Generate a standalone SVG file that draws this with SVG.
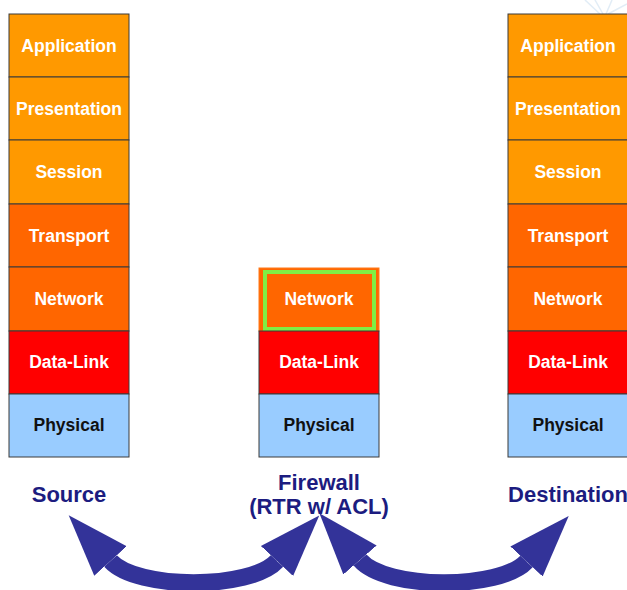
<svg xmlns="http://www.w3.org/2000/svg" width="627" height="590" viewBox="0 0 627 590">
  <defs>
    <style>
      .layer { stroke: #3a3a3a; stroke-width: 1; }
      .app { fill: #ff9900; }
      .net { fill: #ff6600; }
      .dl { fill: #ff0000; }
      .phy { fill: #99ccff; }
      .lt { font-family: "Liberation Sans", Arial, sans-serif; font-weight: bold; font-size: 17.5px; fill: #ffffff; text-anchor: middle; }
      .lt.dark { fill: #111111; }
      .cap { font-family: "Liberation Sans", Arial, sans-serif; font-weight: bold; font-size: 22px; fill: #1c1c80; text-anchor: middle; }
      .shaft { fill: none; stroke: #333399; stroke-width: 17; }
    </style>
    <marker id="head" markerUnits="userSpaceOnUse" markerWidth="64" markerHeight="50" viewBox="0 -25 64 50" refX="0" refY="0" orient="auto-start-reverse">
      <path d="M0,-22 L62,0 L0,22 Z" fill="#333399"/>
    </marker>
    <g id="stack7">
      <rect class="layer app" x="0" y="0" width="120" height="63"/>
      <rect class="layer app" x="0" y="63" width="120" height="63"/>
      <rect class="layer app" x="0" y="126" width="120" height="64"/>
      <rect class="layer net" x="0" y="190" width="120" height="63"/>
      <rect class="layer net" x="0" y="253" width="120" height="64"/>
      <rect class="layer dl" x="0" y="317" width="120" height="63"/>
      <rect class="layer phy" x="0" y="380" width="120" height="63"/>
      <text class="lt" x="60" y="37.5">Application</text>
      <text class="lt" x="60" y="100.5">Presentation</text>
      <text class="lt" x="60" y="163.5">Session</text>
      <text class="lt" x="60" y="227.5">Transport</text>
      <text class="lt" x="60" y="290.5">Network</text>
      <text class="lt" x="60" y="354">Data-Link</text>
      <text class="lt dark" x="60" y="417">Physical</text>
    </g>
  </defs>

  <!-- faint background ornament in the top-right corner -->
  <g stroke="#dbe9f5" stroke-width="1.5" fill="none" opacity="0.8">
    <path d="M585,0 L600,14"/>
    <path d="M595,0 L603,14"/>
    <path d="M612,0 L606,14"/>
    <path d="M627,4 L608,14"/>
  </g>

  <!-- end host: source -->
  <g id="source">
    <use href="#stack7" x="9" y="14"/>
    <text class="cap" x="69" y="502">Source</text>
  </g>

  <!-- router with ACL: lower three layers -->
  <g id="firewall">
    <rect x="259" y="268" width="120" height="63" fill="#ff6600" stroke="#ff7a1a" stroke-width="1"/>
    <rect x="265" y="272" width="109" height="57" fill="none" stroke="#80ee44" stroke-width="4"/>
    <rect class="layer dl" x="259" y="331" width="120" height="63"/>
    <rect class="layer phy" x="259" y="394" width="120" height="63"/>
    <text class="lt" x="319" y="304.5">Network</text>
    <text class="lt" x="319" y="368">Data-Link</text>
    <text class="lt dark" x="319" y="431">Physical</text>
    <text class="cap" x="319" y="490">Firewall</text>
    <text class="cap" x="319" y="514">(RTR w/ ACL)</text>
  </g>

  <!-- end host: destination -->
  <g id="destination">
    <use href="#stack7" x="508" y="14"/>
    <text class="cap" x="568" y="502">Destination</text>
  </g>

  <!-- two-way flows -->
  <g id="connectors">
    <path class="shaft" d="M110.5,561 C137,590 250,590 277,561" marker-start="url(#head)" marker-end="url(#head)"/>
    <path class="shaft" d="M360,560 C386,590 500,590 526.5,561.5" marker-start="url(#head)" marker-end="url(#head)"/>
  </g>
</svg>
